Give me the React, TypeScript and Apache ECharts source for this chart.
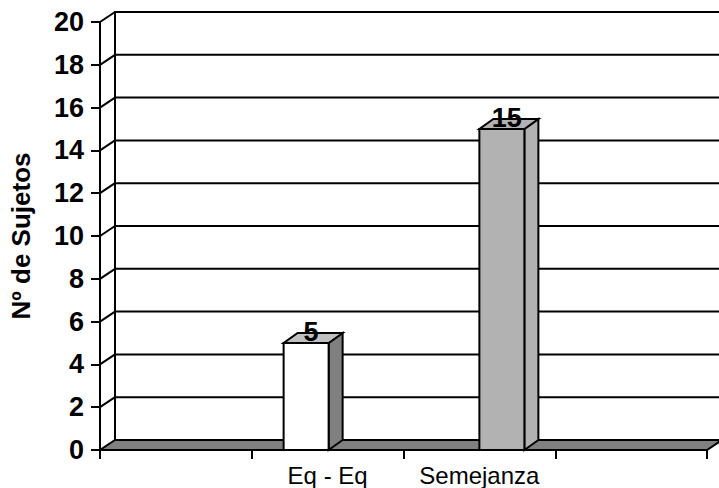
import React, { useEffect, useRef } from "react";
import * as echarts from "echarts";

const categories: string[] = ["", "Eq - Eq", "Semejanza", ""];
const valuesWhite: (number | null)[] = [null, 5, null, null];
const valuesGray: (number | null)[] = [null, null, 15, null];
const yTicks: number[] = [0, 2, 4, 6, 8, 10, 12, 14, 16, 18, 20];
const yAxisTitle = "Nº de Sujetos";

const FONT = '"Liberation Sans", Arial, Helvetica, sans-serif';
const WALL_DX = 15;
const WALL_DY = -10;
const BAR_DX = 14;
const BAR_DY = -10;
const BAR_W = 45;

function toData(vals: (number | null)[]) {
  const out: number[][] = [];
  vals.forEach((v, i) => {
    if (v !== null && v !== undefined) out.push([i, v]);
  });
  return out;
}

function barRenderer(offset: number, front: string, top: string, side: string) {
  return (params: any, api: any) => {
    const idx = api.value(0);
    const v = api.value(1);
    const p0 = api.coord([idx, 0]);
    const p1 = api.coord([idx, v]);
    const x0 = p0[0] + offset;
    const x1 = x0 + BAR_W;
    const y0 = p0[1];
    const y1 = p1[1];
    const st = { stroke: "#000", lineWidth: 2, lineJoin: "miter" };
    return {
      type: "group",
      children: [
        {
          type: "polygon",
          shape: { points: [[x1, y0], [x1 + BAR_DX, y0 + BAR_DY], [x1 + BAR_DX, y1 + BAR_DY], [x1, y1]] },
          style: { fill: side, ...st },
        },
        {
          type: "polygon",
          shape: { points: [[x0, y1], [x1, y1], [x1 + BAR_DX, y1 + BAR_DY], [x0 + BAR_DX, y1 + BAR_DY]] },
          style: { fill: top, ...st },
        },
        {
          type: "rect",
          shape: { x: x0, y: y1, width: BAR_W, height: y0 - y1 },
          style: { fill: front, ...st },
        },
        {
          type: "text",
          style: {
            text: String(v),
            x: (x0 + x1) / 2 + 5,
            y: y1 - 11,
            align: "center",
            verticalAlign: "middle",
            fontSize: 27,
            fontWeight: "bold",
            fontFamily: FONT,
            fill: "#000",
          },
        },
      ],
    };
  };
}

function frameRenderer(params: any, api: any) {
  const cs = params.coordSys;
  const v = api.value(1);
  const y = api.coord([0, v])[1];
  const gx = cs.x;
  const gw = cs.width;
  const st = { stroke: "#000", lineWidth: 2 };
  const children: any[] = [];
  if (v === 0) {
    children.push({
      type: "polygon",
      shape: {
        points: [[gx, y], [gx + gw, y], [gx + gw + WALL_DX, y + WALL_DY], [gx + WALL_DX, y + WALL_DY]],
      },
      style: { fill: "#808080", ...st },
    });
    const topY = api.coord([0, yTicks[yTicks.length - 1]])[1];
    children.push({
      type: "line",
      shape: { x1: gx + WALL_DX, y1: y + WALL_DY, x2: gx + WALL_DX, y2: topY + WALL_DY - 1 },
      style: st,
    });
  } else {
    children.push({
      type: "line",
      shape: { x1: gx, y1: y, x2: gx + WALL_DX, y2: y + WALL_DY },
      style: st,
    });
    children.push({
      type: "line",
      shape: { x1: gx + WALL_DX, y1: y + WALL_DY, x2: gx + gw + WALL_DX + 20, y2: y + WALL_DY },
      style: st,
    });
  }
  return { type: "group", children };
}

export default function App() {
  const ref = useRef<HTMLDivElement>(null);
  useEffect(() => {
    if (!ref.current) return;
    const chart = echarts.init(ref.current, undefined, { renderer: "svg" });
    chart.setOption({
      animation: false,
      backgroundColor: "#fff",
      grid: { left: 99, right: 12, top: 22, bottom: 38, containLabel: false },
      xAxis: {
        type: "category",
        data: categories,
        boundaryGap: true,
        axisLine: { show: true, lineStyle: { color: "#000", width: 2 } },
        axisTick: { show: true, length: 9, interval: 0, lineStyle: { color: "#000", width: 2 } },
        axisLabel: { color: "#000", fontSize: 24, fontFamily: FONT, margin: 13, interval: 0, hideOverlap: false },
        splitLine: { show: false },
        z: 10,
      },
      yAxis: {
        type: "value",
        min: 0,
        max: 20,
        interval: 2,
        name: yAxisTitle,
        nameLocation: "middle",
        nameGap: 66,
        nameTextStyle: { color: "#000", fontSize: 26, fontWeight: "bold", fontFamily: FONT },
        axisLine: { show: true, lineStyle: { color: "#000", width: 2 } },
        axisTick: { show: true, length: 9, lineStyle: { color: "#000", width: 2 } },
        axisLabel: { color: "#000", fontSize: 27, fontWeight: "bold", fontFamily: FONT, margin: 16 },
        splitLine: { show: false },
        z: 10,
      },
      series: [
        {
          type: "custom",
          clip: false,
          silent: true,
          data: yTicks.map((t) => [0, t]),
          renderItem: frameRenderer,
          z: 1,
        },
        {
          type: "custom",
          clip: false,
          data: toData(valuesWhite),
          renderItem: barRenderer(-44, "#ffffff", "#c0c0c0", "#808080"),
          z: 3,
        },
        {
          type: "custom",
          clip: false,
          data: toData(valuesGray),
          renderItem: barRenderer(0, "#b2b2b2", "#b2b2b2", "#b2b2b2"),
          z: 3,
        },
      ],
    });
    return () => chart.dispose();
  }, []);
  return <div ref={ref} style={{ width: 719, height: 488, position: "absolute", left: 0, top: 0 }} />;
}
